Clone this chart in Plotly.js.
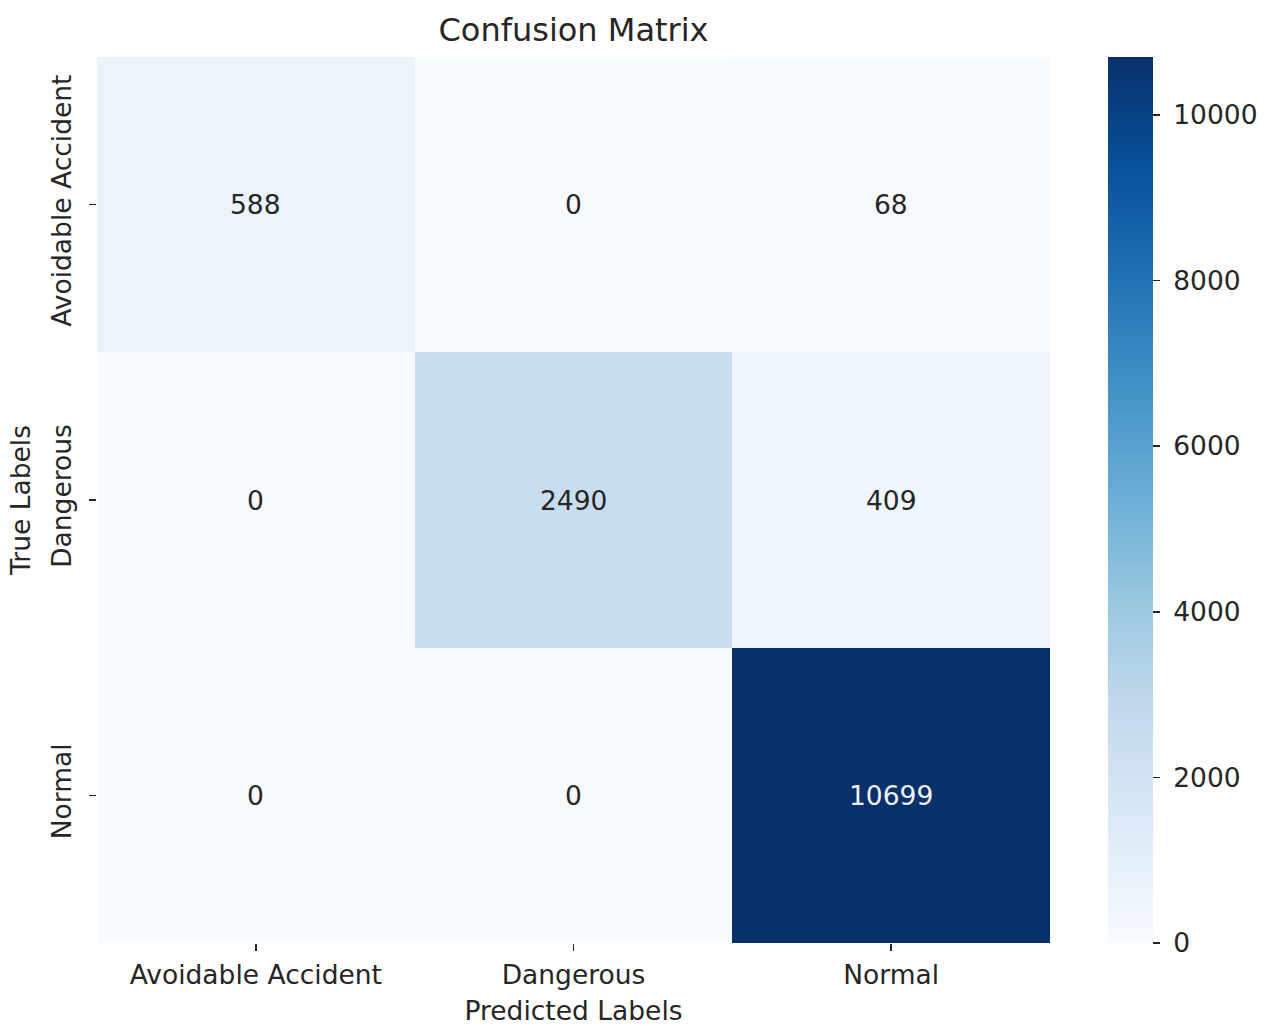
<!DOCTYPE html>
<html>
<head>
<meta charset="utf-8">
<script src="https://cdn.plot.ly/plotly-3.0.1.min.js"></script>
<style>
  html, body { margin: 0; padding: 0; background: #ffffff; }
  #chart { width: 1267px; height: 1026px; }
</style>
</head>
<body>
<div id="chart"></div>
<script>
// Class labels (rows = true, columns = predicted)
const classLabels = ["Avoidable Accident", "Dangerous", "Normal"];

// Confusion matrix counts, one array per true-label row
const rowAvoidable = [588, 0, 68];
const rowDangerous = [0, 2490, 409];
const rowNormal = [0, 0, 10699];
const matrix = [rowAvoidable, rowDangerous, rowNormal];

// Colour bar ticks
const cbTicks = [0, 2000, 4000, 6000, 8000, 10000];

// Sequential blue scale (light to dark)
const blueStops = ["#f7fbff", "#deebf7", "#c6dbef", "#9ecae1", "#6baed6",
                   "#4292c6", "#2171b5", "#08519c", "#08306b"];
const colorscale = blueStops.map((c, i) => [i / (blueStops.length - 1), c]);

const zMax = Math.max(...matrix.flat());
const FONT = "DejaVu Sans, sans-serif";
const INK = "#262626";
const FS = 26.5;

const heat = {
  type: "heatmap",
  x: classLabels,
  y: classLabels,
  z: matrix,
  zmin: 0,
  zmax: zMax,
  colorscale: colorscale,
  xgap: 0,
  ygap: 0,
  hoverinfo: "skip",
  colorbar: {
    x: 1.0609,
    xanchor: "left",
    xpad: 0,
    y: 0.5,
    yanchor: "middle",
    len: 1,
    lenmode: "fraction",
    ypad: 0,
    thickness: 45,
    thicknessmode: "pixels",
    outlinewidth: 0,
    tickvals: cbTicks,
    ticktext: cbTicks.map(v => "\u00a0" + v),
    ticks: "outside",
    ticklen: 7,
    tickwidth: 1.5,
    tickcolor: INK,
    tickfont: { family: FONT, size: FS, color: INK }
  }
};

// Cell value labels: light text on dark cells, dark text elsewhere
const annotations = [];
matrix.forEach((row, i) => {
  row.forEach((v, j) => {
    annotations.push({
      x: classLabels[j],
      y: classLabels[i],
      xref: "x",
      yref: "y",
      text: String(v),
      showarrow: false,
      font: { family: FONT, size: FS, color: v / zMax > 0.6 ? "#f0f0f0" : INK }
    });
  });
});

const layout = {
  width: 1267,
  height: 1026,
  margin: { l: 97, r: 217, t: 57, b: 83, pad: 0, autoexpand: false },
  paper_bgcolor: "#ffffff",
  plot_bgcolor: "#ffffff",
  font: { family: FONT, color: INK },
  title: {
    text: "Confusion Matrix",
    font: { family: FONT, size: 32, color: INK },
    x: 0.5,
    xref: "paper",
    xanchor: "center",
    y: 1 - 30 / 1026,
    yref: "container",
    yanchor: "middle"
  },
  xaxis: {
    type: "category",
    categoryorder: "array",
    categoryarray: classLabels,
    showgrid: false,
    zeroline: false,
    showline: false,
    ticks: "outside",
    ticklen: 7,
    tickwidth: 1.5,
    tickcolor: INK,
    ticklabelstandoff: 1,
    tickfont: { family: FONT, size: FS, color: INK },
    title: { text: "Predicted Labels", font: { family: FONT, size: FS, color: INK }, standoff: 17 }
  },
  yaxis: {
    type: "category",
    categoryorder: "array",
    categoryarray: classLabels,
    autorange: "reversed",
    showgrid: false,
    zeroline: false,
    showline: false,
    ticks: "outside",
    ticklen: 7,
    tickwidth: 1.5,
    tickcolor: INK,
    tickangle: -90,
    ticklabelstandoff: 7,
    tickfont: { family: FONT, size: FS, color: INK },
    title: { text: "True Labels", font: { family: FONT, size: FS, color: INK }, standoff: 8 }
  },
  annotations: annotations
};

Plotly.newPlot("chart", [heat], layout, { displayModeBar: false, staticPlot: true });
</script>
</body>
</html>
